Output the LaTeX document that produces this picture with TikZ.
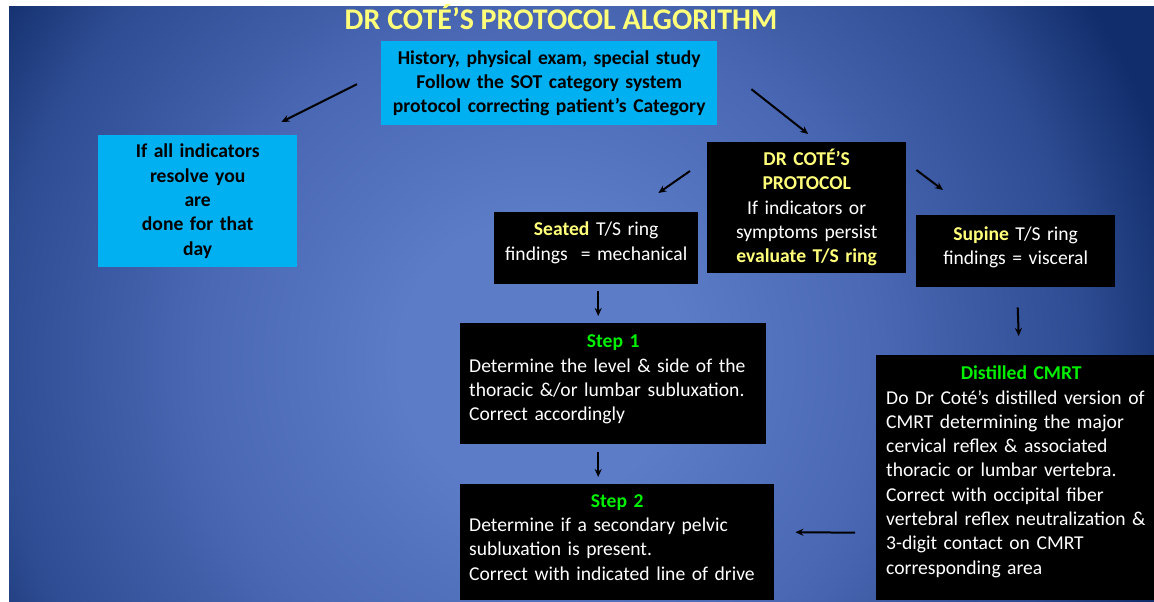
\documentclass[tikz,border=0pt]{standalone}
\usepackage{fontspec}
\setmainfont{Carlito}
\usetikzlibrary{arrows.meta}
\definecolor{bgzero}{RGB}{92,124,200}
\definecolor{bgone}{RGB}{74,104,180}
\definecolor{bgtwo}{RGB}{46,76,146}
\definecolor{bgthree}{RGB}{17,45,107}
\definecolor{boxcyan}{RGB}{0,176,240}
\definecolor{ttlyellow}{RGB}{255,255,122}
\definecolor{stepgreen}{RGB}{0,240,0}
\pgfdeclareradialshading{slidebg}{\pgfpoint{0bp}{0bp}}{color(0bp)=(bgzero); color(4.4bp)=(bgzero); color(10.5bp)=(bgone); color(17bp)=(bgtwo); color(20.5bp)=(bgthree); color(25bp)=(bgthree)}
\tikzset{
  box/.style={anchor=north west, inner xsep=9pt, inner ysep=0pt, font=\fontsize{19.6}{24.3}\selectfont},
  cyanbox/.style={box, fill=boxcyan, text=black, font=\fontsize{19.6}{24.3}\selectfont\bfseries, align=center},
  darkbox/.style={box, fill=black, text=white},
  lift/.style={execute at end node={\par\vspace{#1}}},
  arr/.style={line width=2pt, -{Stealth[length=8pt,width=7pt]}}
}
\newcommand{\ylw}[1]{\textcolor{ttlyellow}{\bfseries #1}}
\newcommand{\grn}[1]{\textcolor{stepgreen}{\bfseries #1}}
\begin{document}
\begin{tikzpicture}[x=1pt,y=-1pt]
  \useasboundingbox (0,0) rectangle (1154,602);
  \fill[white] (0,0) rectangle (1154,602);
  \begin{scope}     % slide background
    \clip (9,7) rectangle (1154,602);
    \shade[shading=slidebg] (-260,-440) rectangle (1340,1160);
  \end{scope}

  \node[font=\fontsize{30}{32}\selectfont\bfseries, text=ttlyellow] (title) at (561,17) {DR COTÉ’S PROTOCOL ALGORITHM};

  \node[cyanbox, minimum width=336pt, minimum height=84pt, text width=318pt] (hist) at (381,41)
    {History, physical exam, special study\\ Follow the SOT category system\\ protocol correcting patient’s Category};
  \node[cyanbox, minimum width=199pt, minimum height=132pt, text width=181pt] (done) at (98,135)
    {If all indicators\\ resolve you\\ are\\ done for that\\ day};
  \node[darkbox, align=center, minimum width=199pt, minimum height=131pt, text width=181pt] (proto) at (707,142)
    {\ylw{DR COTÉ’S}\\ \ylw{PROTOCOL}\\ If indicators or\\ symptoms persist\\ \ylw{evaluate T/S ring}};
  \node[darkbox, align=center, lift=11pt, minimum width=204pt, minimum height=72pt, text width=186pt] (seated) at (494,212)
    {\ylw{Seated} T/S ring\\ findings~ = mechanical};
  \node[darkbox, align=center, lift=8pt, minimum width=199pt, minimum height=72pt, text width=181pt] (supine) at (916,215)
    {\ylw{Supine} T/S ring\\ findings = visceral};
  \node[darkbox, align=left, lift=8pt, minimum width=306pt, minimum height=121pt, text width=288pt] (step1) at (460,323)
    {{\centering\grn{Step 1}\par}Determine the level \& side of the\\ thoracic \&/or lumbar subluxation.\\ Correct accordingly};
  \node[darkbox, align=left, lift=10pt, minimum width=314pt, minimum height=116pt, text width=296pt] (step2) at (460,484)
    {{\centering\grn{Step 2}\par}Determine if a secondary pelvic\\ subluxation is present.\\ Correct with indicated line of drive};
  \node[darkbox, align=left, inner xsep=10pt, lift=12pt, minimum width=290pt, minimum height=245pt, text width=270pt] (cmrt) at (876,355)
    {{\centering\grn{Distilled CMRT}\par}Do Dr Coté’s distilled version of\\ CMRT determining the major\\ cervical reflex \& associated\\ thoracic or lumbar vertebra.\\ Correct with occipital fiber\\ vertebral reflex neutralization \&\\ 3-digit contact on CMRT\\ corresponding area};

  % arrows
  \draw[arr] ([xshift=-24pt,yshift=-1pt]hist.west) -- ([xshift=-16pt,yshift=13pt]done.north east);
  \draw[arr] ([xshift=34pt,yshift=-6pt]hist.east) -- ([xshift=1.5pt,yshift=8pt]proto.north);
  \draw[arr] ([xshift=-17pt,yshift=-29pt]proto.north west) -- ([xshift=-40pt,yshift=19pt]seated.north east);
  \draw[arr] ([xshift=10pt,yshift=-28pt]proto.north east) -- ([xshift=27pt,yshift=25pt]supine.north west);
  \draw[arr] ([xshift=2pt,yshift=-7pt]seated.south) -- ([xshift=-15pt,yshift=7pt]step1.north);
  \draw[arr] ([xshift=-15pt,yshift=-8pt]step1.south) -- ([xshift=-15pt,yshift=7pt]step1.south |- step2.north);
  \draw[arr] ([xshift=2pt,yshift=-20pt]supine.south) -- ([xshift=3pt,yshift=19pt]supine.south |- cmrt.north);
  \draw[arr] ([xshift=-21pt,yshift=-55pt]cmrt.west) -- ([xshift=21pt,yshift=10pt]step2.east);
\end{tikzpicture}
\end{document}
